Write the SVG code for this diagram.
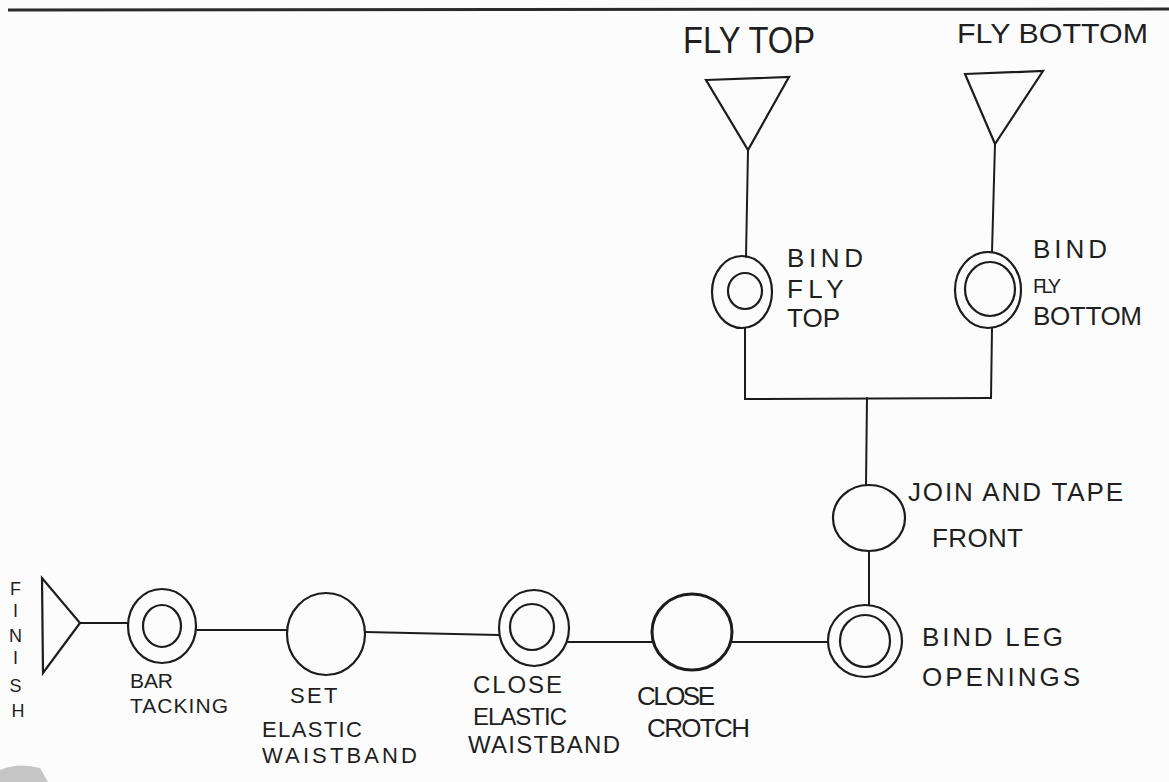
<svg xmlns="http://www.w3.org/2000/svg" width="1169" height="782" viewBox="0 0 1169 782">
  <style>
    .ln { fill: none; stroke: #1c1c1c; stroke-width: 2; stroke-linecap: round; stroke-linejoin: round; }
    .nd { fill: none; stroke: #1c1c1c; stroke-width: 2.2; }
    .thick { stroke-width: 3; }
    .tx { font-family: "Liberation Sans", "DejaVu Sans", sans-serif; fill: #1f1f1f; font-weight: normal; }
  </style>
  <rect x="0" y="0" width="1169" height="782" fill="#fcfcfc"/>
  <line x1="8" y1="10" x2="1169" y2="9" stroke="#2a2a2a" stroke-width="3"/>
  <path d="M0,770 Q18,762 40,768 L48,782 L0,782 Z" fill="#b8b8b8" opacity="0.8"/>

  <g id="connectors">
    <line class="ln" x1="748" y1="150" x2="746" y2="257"/>
    <line class="ln" x1="995" y1="144" x2="992" y2="252"/>
    <line class="ln" x1="745" y1="328" x2="745" y2="399"/>
    <line class="ln" x1="992" y1="328" x2="991" y2="398"/>
    <line class="ln" x1="745" y1="399" x2="991" y2="398"/>
    <line class="ln" x1="867" y1="398" x2="866" y2="485"/>
    <line class="ln" x1="869" y1="552" x2="869" y2="605"/>
    <line class="ln" x1="828" y1="642" x2="732" y2="642"/>
    <line class="ln" x1="653" y1="642" x2="568" y2="642"/>
    <line class="ln" x1="499" y1="635" x2="365" y2="632"/>
    <line class="ln" x1="287" y1="630" x2="197" y2="630"/>
    <line class="ln" x1="128" y1="623" x2="80" y2="623"/>
  </g>

  <g id="fly-top">
    <polygon class="nd" points="706,80 789,77 748,150"/>
    <text class="tx" x="683" y="53" font-size="36" textLength="132" lengthAdjust="spacingAndGlyphs">FLY TOP</text>
  </g>
  <g id="fly-bottom">
    <polygon class="nd" points="965,74 1043,71 995,144"/>
    <text class="tx" x="957" y="43" font-size="28" textLength="191" lengthAdjust="spacingAndGlyphs">FLY BOTTOM</text>
  </g>

  <g id="bind-fly-top">
    <ellipse class="nd" cx="742" cy="292" rx="30" ry="36"/>
    <ellipse class="nd" cx="745" cy="291" rx="17" ry="18"/>
    <text class="tx" font-size="26" lengthAdjust="spacingAndGlyphs">
      <tspan x="787" y="267" textLength="76">BIND</tspan>
      <tspan x="787" y="298" textLength="56">FLY</tspan>
      <tspan x="787" y="327" textLength="53">TOP</tspan>
    </text>
  </g>

  <g id="bind-fly-bottom">
    <ellipse class="nd" cx="988" cy="290" rx="33" ry="38"/>
    <ellipse class="nd" cx="990" cy="289" rx="25" ry="27"/>
    <text class="tx" font-size="26" lengthAdjust="spacingAndGlyphs">
      <tspan x="1033" y="258" textLength="74">BIND</tspan>
      <tspan x="1033" y="293" font-size="20" textLength="28">FLY</tspan>
      <tspan x="1033" y="325" textLength="109">BOTTOM</tspan>
    </text>
  </g>

  <g id="join-and-tape-front">
    <ellipse class="nd" cx="869" cy="518" rx="36" ry="33"/>
    <text class="tx" font-size="26" lengthAdjust="spacingAndGlyphs">
      <tspan x="908" y="501" textLength="215">JOIN AND TAPE</tspan>
      <tspan x="932" y="547" textLength="91">FRONT</tspan>
    </text>
  </g>

  <g id="bind-leg-openings">
    <ellipse class="nd" cx="865" cy="641" rx="37" ry="36"/>
    <ellipse class="nd" cx="865" cy="641" rx="25" ry="26"/>
    <text class="tx" font-size="26" lengthAdjust="spacingAndGlyphs">
      <tspan x="922" y="646" textLength="141">BIND LEG</tspan>
      <tspan x="922" y="686" textLength="158">OPENINGS</tspan>
    </text>
  </g>

  <g id="close-crotch">
    <ellipse class="nd thick" cx="692" cy="632" rx="40" ry="38"/>
    <text class="tx" font-size="26" lengthAdjust="spacingAndGlyphs">
      <tspan x="637" y="705" textLength="78">CLOSE</tspan>
      <tspan x="647" y="737" textLength="103">CROTCH</tspan>
    </text>
  </g>

  <g id="close-elastic-waistband">
    <ellipse class="nd" cx="534" cy="628" rx="35" ry="38"/>
    <ellipse class="nd" cx="532" cy="627" rx="22" ry="23"/>
    <text class="tx" font-size="24" lengthAdjust="spacingAndGlyphs">
      <tspan x="473" y="693" textLength="89">CLOSE</tspan>
      <tspan x="473" y="725" textLength="94">ELASTIC</tspan>
      <tspan x="468" y="753" textLength="152">WAISTBAND</tspan>
    </text>
  </g>

  <g id="set-elastic-waistband">
    <ellipse class="nd" cx="326" cy="634" rx="39" ry="41"/>
    <text class="tx" font-size="22" lengthAdjust="spacingAndGlyphs">
      <tspan x="290" y="703" textLength="47">SET</tspan>
      <tspan x="262" y="737" textLength="100">ELASTIC</tspan>
      <tspan x="262" y="763" textLength="155">WAISTBAND</tspan>
    </text>
  </g>

  <g id="bar-tacking">
    <ellipse class="nd" cx="162" cy="626" rx="34" ry="37"/>
    <ellipse class="nd" cx="162" cy="626" rx="19" ry="21"/>
    <text class="tx" font-size="21" lengthAdjust="spacingAndGlyphs">
      <tspan x="130" y="688" textLength="43">BAR</tspan>
      <tspan x="130" y="713" textLength="98">TACKING</tspan>
    </text>
  </g>

  <g id="finish">
    <polygon class="nd" points="42,578 43,673 80,623"/>
    <text class="tx" font-size="18" text-anchor="middle">
      <tspan x="18" y="595">F</tspan>
      <tspan x="18" y="617">I</tspan>
      <tspan x="18" y="642">N</tspan>
      <tspan x="18" y="664">I</tspan>
      <tspan x="18" y="692">S</tspan>
      <tspan x="18" y="717">H</tspan>
    </text>
  </g>
</svg>
